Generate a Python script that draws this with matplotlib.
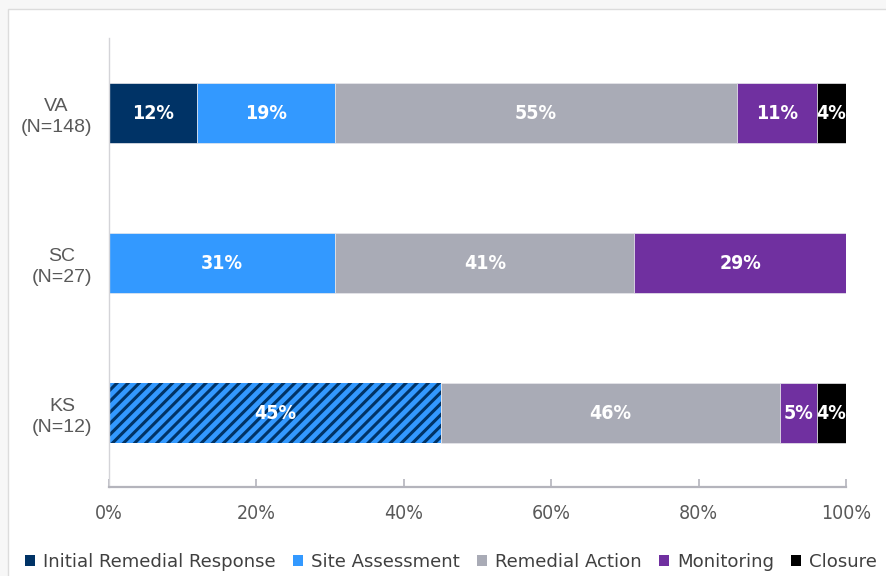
import numpy as np
import matplotlib
matplotlib.use("Agg")
import matplotlib.pyplot as plt
from matplotlib.patches import Rectangle
from matplotlib.ticker import PercentFormatter

# stage mix per state, bottom row first
states = ["KS\n(N=12)", "SC\n(N=27)", "VA\n(N=148)"]
stages = ["Initial Remedial Response", "Site Assessment", "Remedial Action",
          "Monitoring", "Closure"]
initial = [0, 0, 12]
site_assessment = [45, 31, 19]
remedial_action = [46, 41, 55]
monitoring = [5, 29, 11]
closure = [4, 0, 4]
# KS reports initial response and site assessment together
combined_row = [True, False, False]

colors = ["#003366", "#3399FF", "#A9ABB6", "#7030A0", "#000000"]

plt.rcParams["font.family"] = ["DejaVu Sans"]
plt.rcParams["hatch.linewidth"] = 2.2

fig = plt.figure(figsize=(8.87, 5.76), dpi=100)
fig.patch.set_facecolor("#f7f7f7")
# white slide panel
fig.add_artist(Rectangle((8 / 887, -0.01), 1.05, 1 - 9 / 576 + 0.01,
                         transform=fig.transFigure, facecolor="white",
                         edgecolor="#dcdcdc", linewidth=1, zorder=0))

ax = fig.add_axes([109 / 887, 1 - 487 / 576, 737 / 887, 449 / 576])
ax.set_facecolor("none")

data = np.array([initial, site_assessment, remedial_action, monitoring, closure], dtype=float)
shares = data / data.sum(axis=0) * 100
y = np.arange(len(states))
left = np.zeros(len(states))
for i, stage in enumerate(stages):
    for j in range(len(states)):
        w = shares[i, j]
        if w <= 0:
            continue
        if i == 1 and combined_row[j]:
            ax.barh(y[j], w, left=left[j], height=0.4, color=colors[1],
                    edgecolor=colors[0], linewidth=0, hatch="///")
        else:
            ax.barh(y[j], w, left=left[j], height=0.4, color=colors[i],
                    edgecolor="#e8e8ec", linewidth=0.5)
        ax.text(left[j] + w / 2, y[j], f"{data[i, j]:.0f}%", ha="center",
                va="center", color="white", fontsize=14, fontweight="bold",
                fontstretch="condensed")
    left += shares[i]

for i, stage in enumerate(stages):
    ax.bar([0], [0], color=colors[i], label=stage)

ax.set_xlim(0, 100)
ax.set_ylim(-0.493, 2.5)
ax.set_yticks(y)
ax.set_yticklabels(states, fontsize=14, color="#595959", linespacing=1.3,
                   family=["Liberation Sans", "DejaVu Sans"], multialignment="center")
ax.tick_params(axis="y", length=0, pad=12)
ax.set_xticks(np.arange(0, 101, 20))
ax.xaxis.set_major_formatter(PercentFormatter(decimals=0))
ax.tick_params(axis="x", direction="in", length=6, width=1.2, color="#b4b4bc", pad=12,
               labelsize=14, labelcolor="#595959")
for lbl in ax.get_xticklabels():
    lbl.set_fontstretch("condensed")
for side in ["top", "right"]:
    ax.spines[side].set_visible(False)
ax.spines["left"].set_color("#d4d4d8")
ax.spines["left"].set_linewidth(1.0)
ax.spines["bottom"].set_color("#b4b4bc")
ax.spines["bottom"].set_linewidth(1.6)

fig.legend(loc="center left", bbox_to_anchor=(25 / 887, 1 - 562 / 576), ncol=5,
           frameon=False, fontsize=13.1, handlelength=0.54, handleheight=0.6,
           handletextpad=0.45, columnspacing=0.95, borderpad=0, borderaxespad=0,
           labelcolor="#404040")

fig.savefig("out.png", dpi=100, facecolor=fig.get_facecolor())
